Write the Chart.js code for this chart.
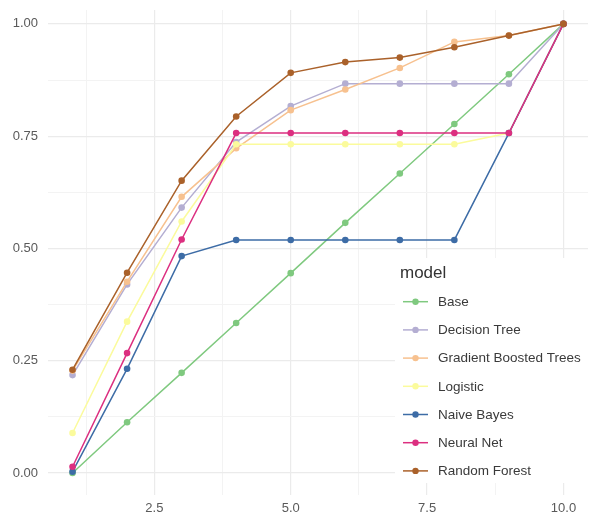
<!DOCTYPE html>
<html>
<head>
<meta charset="utf-8">
<script src="https://cdn.jsdelivr.net/npm/chart.js@4.4.1/dist/chart.umd.min.js"></script>
<style>
html,body{margin:0;padding:0;background:#fff;}
#wrap{width:592px;height:513px;position:relative;}
</style>
</head>
<body>
<div id="wrap"><canvas id="c" width="592" height="513"></canvas></div>
<script>
// ---- data ----
const xValues = [1, 2, 3, 4, 5, 6, 7, 8, 9, 10];
const seriesNames = ["Base", "Decision Tree", "Gradient Boosted Trees", "Logistic", "Naive Bayes", "Neural Net", "Random Forest"];
const baseValues     = [0.000, 0.113, 0.223, 0.334, 0.445, 0.557, 0.667, 0.777, 0.888, 1.000];
const decisionTree   = [0.218, 0.420, 0.591, 0.737, 0.817, 0.867, 0.867, 0.867, 0.867, 1.000];
const gradientBoost  = [0.228, 0.426, 0.615, 0.723, 0.808, 0.854, 0.902, 0.960, 0.974, 1.000];
const logisticValues = [0.089, 0.337, 0.560, 0.732, 0.732, 0.732, 0.732, 0.732, 0.757, 1.000];
const naiveBayes     = [0.003, 0.232, 0.483, 0.519, 0.519, 0.519, 0.519, 0.519, 0.757, 1.000];
const neuralNet      = [0.014, 0.267, 0.520, 0.757, 0.757, 0.757, 0.757, 0.757, 0.757, 1.000];
const randomForest   = [0.230, 0.446, 0.651, 0.794, 0.891, 0.915, 0.925, 0.948, 0.974, 1.000];
const xMajorTicks = [2.5, 5, 7.5, 10];
const xMinorTicks = [1.25, 3.75, 6.25, 8.75];
const yMajorTicks = [0, 0.25, 0.5, 0.75, 1];
const yMinorTicks = [0.125, 0.375, 0.625, 0.875];
const legendTitle = "model";

// ---- styles ----
const seriesValues = [baseValues, decisionTree, gradientBoost, logisticValues, naiveBayes, neuralNet, randomForest];
const seriesColors = ["#7fc97f", "#b4aed2", "#f7c18f", "#fbfb9c", "#3d6ca6", "#dc2f80", "#aa612a"];

const datasets = seriesNames.map((name, i) => ({
  label: name,
  data: xValues.map((x, j) => ({x: x, y: seriesValues[i][j]})),
  borderColor: seriesColors[i],
  backgroundColor: seriesColors[i],
  pointBackgroundColor: seriesColors[i],
  pointBorderColor: seriesColors[i],
  borderWidth: 1.5,
  pointRadius: 3.3,
  pointBorderWidth: 0,
  tension: 0,
  order: seriesNames.length - 1 - i
}));

const tickFont = {family: "'Liberation Sans', Arial, sans-serif", size: 13};
const tickColor = "#5a5a5a";

function isIn(arr, v) { return arr.some(a => Math.abs(a - v) < 1e-9); }

const legendPlugin = {
  id: 'ggLegend',
  afterDatasetsDraw(chart) {
    const ctx = chart.ctx;
    ctx.save();
    ctx.fillStyle = '#ffffff';
    ctx.fillRect(395, 258, 197, 225);
    ctx.fillStyle = '#333333';
    ctx.font = "17px 'Liberation Sans', Arial, sans-serif";
    ctx.textBaseline = 'alphabetic';
    ctx.textAlign = 'left';
    ctx.fillText(legendTitle, 400, 278);
    const y0 = 301.7, dy = 28.2;
    chart.data.datasets.forEach((ds, i) => {
      const cy = y0 + i * dy;
      ctx.strokeStyle = ds.borderColor;
      ctx.lineWidth = 1.5;
      ctx.beginPath();
      ctx.moveTo(403, cy);
      ctx.lineTo(428, cy);
      ctx.stroke();
      ctx.fillStyle = ds.borderColor;
      ctx.beginPath();
      ctx.arc(415.5, cy, 3.2, 0, Math.PI * 2);
      ctx.fill();
      ctx.fillStyle = '#3a3a3a';
      ctx.font = "13.5px 'Liberation Sans', Arial, sans-serif";
      ctx.textBaseline = 'middle';
      ctx.fillText(ds.label, 438, cy + 0.5);
    });
    ctx.restore();
  }
};

new Chart(document.getElementById('c'), {
  type: 'line',
  data: {datasets: datasets},
  options: {
    responsive: false,
    animation: false,
    devicePixelRatio: 1,
    layout: {padding: {top: 10, right: 4, left: 0, bottom: 0}},
    plugins: {legend: {display: false}, tooltip: {enabled: false}},
    scales: {
      x: {
        type: 'linear',
        min: 0.55, max: 10.45,
        afterBuildTicks(scale) {
          scale.ticks = xMinorTicks.concat(xMajorTicks).sort((a, b) => a - b).map(v => ({value: v}));
        },
        afterFit(scale) { scale.height = 18; scale.paddingLeft = 0; scale.paddingRight = 0; },
        ticks: {
          autoSkip: false, maxRotation: 0, padding: 6,
          font: tickFont, color: tickColor,
          callback: v => isIn(xMajorTicks, v) ? v.toFixed(1) : ''
        },
        grid: {
          drawTicks: false,
          color: c => (c.tick && isIn(xMajorTicks, c.tick.value)) ? '#ebebeb' : '#f3f3f3',
          lineWidth: c => (c.tick && isIn(xMajorTicks, c.tick.value)) ? 1.2 : 1
        },
        border: {display: false}
      },
      y: {
        type: 'linear',
        min: -0.049, max: 1.031,
        afterBuildTicks(scale) {
          scale.ticks = yMinorTicks.concat(yMajorTicks).sort((a, b) => a - b).map(v => ({value: v}));
        },
        afterFit(scale) { scale.width = 48; scale.paddingTop = 0; scale.paddingBottom = 0; },
        ticks: {
          autoSkip: false, padding: 10,
          font: tickFont, color: tickColor,
          callback: v => isIn(yMajorTicks, v) ? v.toFixed(2) : ''
        },
        grid: {
          drawTicks: false,
          color: c => (c.tick && isIn(yMajorTicks, c.tick.value)) ? '#ebebeb' : '#f3f3f3',
          lineWidth: c => (c.tick && isIn(yMajorTicks, c.tick.value)) ? 1.2 : 1
        },
        border: {display: false}
      }
    }
  },
  plugins: [legendPlugin]
});
</script>
</body>
</html>
